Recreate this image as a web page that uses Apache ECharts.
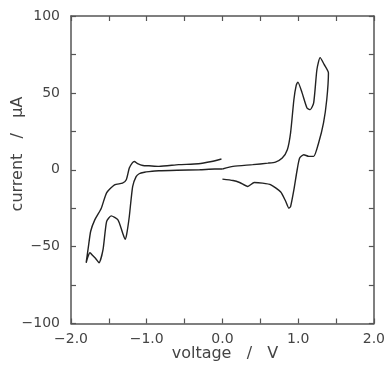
<!DOCTYPE html>
<html>
<head>
<meta charset="utf-8">
<script src="https://cdn.jsdelivr.net/npm/echarts@6/dist/echarts.min.js"></script>
<style>
html,body{margin:0;padding:0;background:#fff;}
#chart{width:388px;height:366px;}
</style>
</head>
<body>
<div id="chart"></div>
<script>
// Negative sweep: 0 V -> -1.80 V -> 0 V
var negSweepV = [0, -0.1, -0.3, -0.6, -0.84, -0.97, -1.03, -1.1, -1.14, -1.186, -1.23, -1.265, -1.286, -1.317, -1.38, -1.47, -1.53, -1.577, -1.63, -1.67, -1.71, -1.75, -1.78, -1.80,
                 -1.795, -1.77, -1.74, -1.686, -1.6, -1.53, -1.425, -1.32, -1.27, -1.23, -1.19, -1.164, -1.12, -1.05, -0.97, -0.838, -0.578, -0.317, -0.143, -0.013];
var negSweepI = [0.5, 0.5, 0, -0.3, -0.65, -1.2, -1.6, -2.6, -4.5, -10.9, -30.4, -42, -45.2, -41.3, -32.6, -30, -33.7, -52, -60.5, -58, -56, -54, -57, -60.5,
                 -58.7, -50, -40, -32.6, -25, -15, -9.8, -8.7, -6.5, 1.1, 4.5, 5.4, 4, 2.8, 2.6, 2.2, 3.3, 3.9, 5.4, 7];
// Positive sweep: 0 V -> 1.40 V -> 0 V
var posSweepV = [0, 0.14, 0.40, 0.60, 0.70, 0.79, 0.857, 0.90, 0.944, 0.975, 0.996, 1.052, 1.117, 1.16, 1.205, 1.248, 1.29, 1.343, 1.40,
                 1.378, 1.335, 1.27, 1.205, 1.14, 1.074, 1.02, 0.987, 0.944, 0.90, 0.878, 0.835, 0.77, 0.64, 0.53, 0.42, 0.335, 0.227, 0.14, 0];
var posSweepI = [0.5, 2.2, 3.3, 4.3, 5, 7.6, 13, 24, 45.7, 55, 57, 50, 40.2, 39.1, 43.5, 65.2, 72.9, 68.5, 63,
                 45.7, 30.5, 17.4, 8.7, 8.7, 9.8, 7.6, 0, -13, -24, -25, -20.5, -14.5, -9.8, -8.7, -8.3, -10.9, -8.3, -7, -6.1];

var xTicks = [-2, -1, 0, 1, 2];
var xTickLabels = ['\u22122.0', '\u22121.0', '0.0', '1.0', '2.0'];
var yTicks = [-100, -50, 0, 50, 100];
var yTickLabels = ['\u2212100', '\u221250', '0', '50', '100'];

function zip(a, b) { return a.map(function (v, i) { return [v, b[i]]; }); }
function lbl(ticks, labels) {
  return function (v) {
    for (var i = 0; i < ticks.length; i++) if (Math.abs(ticks[i] - v) < 1e-9) return labels[i];
    return '';
  };
}

var axisLineStyle = { color: '#555', width: 1.5 };
var tickStyle = { show: true, inside: true, length: 5, lineStyle: { color: '#555', width: 1.2 } };
var fontFam = 'DejaVu Sans';

var chart = echarts.init(document.getElementById('chart'), null, { renderer: 'canvas' });
chart.setOption({
  animation: false,
  backgroundColor: '#fff',
  grid: { left: 71, right: 10.5, top: 16, bottom: 42.5, containLabel: false },
  xAxis: [
    { type: 'value', min: -2, max: 2, interval: 0.5, position: 'bottom',
      axisLine: { show: true, onZero: false, lineStyle: axisLineStyle }, axisTick: tickStyle,
      splitLine: { show: false },
      axisLabel: { formatter: lbl(xTicks, xTickLabels), color: '#444', fontSize: 14, fontFamily: fontFam, margin: 9 } },
    { type: 'value', min: -2, max: 2, interval: 0.5, position: 'top',
      axisLine: { show: true, onZero: false, lineStyle: axisLineStyle }, axisTick: tickStyle,
      splitLine: { show: false }, axisLabel: { show: false } }
  ],
  yAxis: [
    { type: 'value', min: -100, max: 100, interval: 25, position: 'left',
      axisLine: { show: true, onZero: false, lineStyle: axisLineStyle }, axisTick: tickStyle,
      splitLine: { show: false },
      axisLabel: { formatter: lbl(yTicks, yTickLabels), color: '#444', fontSize: 14, fontFamily: fontFam, margin: 11 } },
    { type: 'value', min: -100, max: 100, interval: 25, position: 'right',
      axisLine: { show: true, onZero: false, lineStyle: axisLineStyle }, axisTick: tickStyle,
      splitLine: { show: false }, axisLabel: { show: false } }
  ],
  graphic: [
    { type: 'text', x: 225, y: 354,
      style: { text: 'voltage   /   V', fontSize: 16, fontFamily: fontFam, fill: '#444', align: 'center', verticalAlign: 'middle' } },
    { type: 'text', x: 18, y: 154, rotation: Math.PI / 2,
      style: { text: 'current   /   μA', fontSize: 16, fontFamily: fontFam, fill: '#444', align: 'center', verticalAlign: 'middle' } }
  ],
  series: [
    { type: 'line', data: zip(negSweepV, negSweepI), showSymbol: false, smooth: 0.2,
      lineStyle: { color: '#222', width: 1.4 } },
    { type: 'line', data: zip(posSweepV, posSweepI), showSymbol: false, smooth: 0.2,
      lineStyle: { color: '#222', width: 1.4 } }
  ]
});
</script>
</body>
</html>
